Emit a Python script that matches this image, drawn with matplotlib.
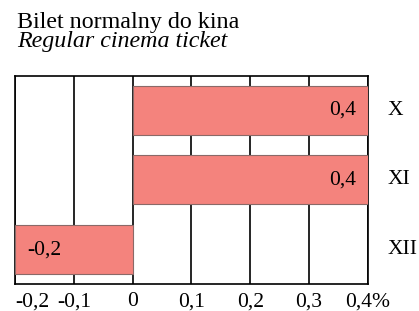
import matplotlib
matplotlib.use('Agg')
from matplotlib import pyplot as plt

months = ['X', 'XI', 'XII']
changes = [0.4, 0.4, -0.2]
xticks = [-0.2, -0.1, 0, 0.1, 0.2, 0.3, 0.4]
xtick_labels = ['-0,2', '-0,1', '0', '0,1', '0,2', '0,3', '0,4%']

plt.rcParams['font.family'] = ['Liberation Serif', 'DejaVu Serif']

fig = plt.figure(figsize=(4.19, 3.11), dpi=100)
ax = fig.add_axes([0.036, 0.087, 0.842, 0.669])

ypos = list(range(len(months)))
ax.barh(ypos, changes, height=0.7, color='#f4837d', edgecolor='#8a6a68',
        linewidth=0.8, zorder=3)

for x in xticks:
    ax.axvline(x, color='black', lw=1.2, zorder=1)

for y, v in zip(ypos, changes):
    txt = f'{v:.1f}'.replace('.', ',')
    if v >= 0:
        ax.text(v - 0.02, y, txt, ha='right', va='center', fontsize=15.5, zorder=4)
    else:
        ax.text(-0.2 + 0.02, y, txt, ha='left', va='center', fontsize=15.5, zorder=4)
    ax.text(0.433, y, months[y], ha='left', va='center', fontsize=15.5,
            clip_on=False)

ax.set_xlim(-0.2, 0.4)
ax.set_ylim(2.49, -0.49)
ax.set_xticks(xticks)
ax.set_xticklabels(xtick_labels, fontsize=15.5)
ax.set_yticks([])
ax.tick_params(axis='x', length=0, pad=6)
# first label sits right of its gridline so it is not cut at the edge
ax.get_xticklabels()[0].set_ha('left')
for side in ['top', 'left', 'bottom', 'right']:
    ax.spines[side].set_linewidth(1.2)

fig.text(0.04, 0.91, 'Bilet normalny do kina', fontsize=17.3, va='baseline')
fig.text(0.04, 0.849, 'Regular cinema ticket', fontsize=17.3, style='italic',
         va='baseline')

plt.savefig('out.png', dpi=100)
